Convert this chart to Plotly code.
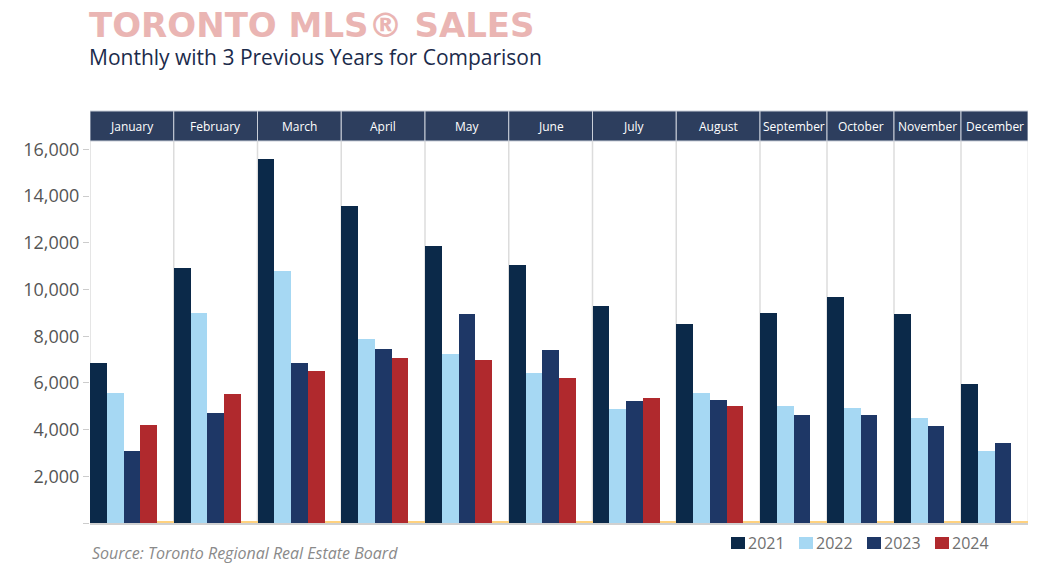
import plotly.graph_objects as go

# ---------------- data ----------------
months = ["January", "February", "March", "April", "May", "June",
          "July", "August", "September", "October", "November", "December"]
years = ["2021", "2022", "2023", "2024"]
sales_2021 = [6860, 10900, 15600, 13560, 11870, 11030, 9310, 8540, 8990, 9700, 8940, 5970]
sales_2022 = [5570, 8990, 10810, 7900, 7230, 6430, 4870, 5570, 4990, 4940, 4490, 3090]
sales_2023 = [3090, 4730, 6840, 7470, 8960, 7430, 5210, 5260, 4610, 4610, 4170, 3420]
sales_2024 = [4190, 5530, 6490, 7070, 7000, 6190, 5370, 4990, None, None, None, None]
y_ticks = [0, 2000, 4000, 6000, 8000, 10000, 12000, 14000, 16000]
spacer_value = 80  # thin orange marker closing each month group

series = [sales_2021, sales_2022, sales_2023, sales_2024]
colors = ["#0B2949", "#A6D8F3", "#1E3766", "#B0292D"]
spacer_color = "#FFD27F"

# ---------------- slot layout (derived from data) ----------------
xs = [[] for _ in series]
ys = [[] for _ in series]
spacer_x = []
group_start = []
group_end = []
slot = 0
for m in range(len(months)):
    group_start.append(slot)
    for s, vals in enumerate(series):
        if vals[m] is not None:
            xs[s].append(slot)
            ys[s].append(vals[m])
            slot += 1
    spacer_x.append(slot)
    slot += 1
    group_end.append(slot)
n_slots = slot

# ---------------- figure ----------------
W, H = 1052, 569
ml, mr, mt, mb = 90, 24, 141, 46
pw = W - ml - mr
ph = H - mt - mb


def py(ypx):
    """pixel row -> paper y"""
    return (H - mb - ypx) / ph


def px(xpx):
    """pixel column -> paper x"""
    return (xpx - ml) / pw


fig = go.Figure()
for s, yr in enumerate(years):
    fig.add_trace(go.Bar(
        x=xs[s], y=ys[s], width=1, name=yr,
        marker=dict(color=colors[s], line=dict(width=0)),
    ))
fig.add_trace(go.Bar(
    x=spacer_x, y=[spacer_value] * len(spacer_x), width=1,
    marker=dict(color=spacer_color, line=dict(width=0)),
    showlegend=False, hoverinfo="skip",
))

shapes = []
annotations = []
hdr_h = 30 / ph
for m, name in enumerate(months):
    x0 = group_start[m] - 0.5
    x1 = group_end[m] - 0.5
    shapes.append(dict(type="rect", xref="x", yref="paper", x0=x0, x1=x1,
                       y0=1, y1=1 + hdr_h, fillcolor="#2D3E5E",
                       line=dict(color="#C9CED8", width=1), layer="above"))
    annotations.append(dict(xref="x", yref="paper", x=(x0 + x1) / 2, y=1 + hdr_h / 2,
                            text=name, showarrow=False, yanchor="middle",
                            font=dict(family="Open Sans", size=12, color="#FFFFFF")))
    shapes.append(dict(type="line", xref="x", yref="paper", x0=x0, x1=x0, y0=0, y1=1,
                       line=dict(color="#DCDCDC", width=1.5), layer="below"))
shapes.append(dict(type="line", xref="x", yref="paper", x0=n_slots - 0.5, x1=n_slots - 0.5,
                   y0=0, y1=1, line=dict(color="#EEEEEE", width=1.5), layer="below"))

# legend (swatch + label per year)
leg_x0, leg_step, leg_y = 731, 68, 543
for k, yr in enumerate(years):
    bx = leg_x0 + k * leg_step
    shapes.append(dict(type="rect", xref="paper", yref="paper",
                       x0=px(bx), x1=px(bx + 14), y0=py(leg_y + 6), y1=py(leg_y - 6),
                       fillcolor=colors[k], line=dict(width=0)))
    annotations.append(dict(xref="paper", yref="paper", x=px(bx + 15), y=py(leg_y),
                            xanchor="left", yanchor="middle", showarrow=False, text=yr,
                            font=dict(family="Open Sans", size=16, color="#707070")))

annotations.append(dict(xref="paper", yref="paper", x=-0.003, y=py(25),
                        xanchor="left", yanchor="middle", showarrow=False,
                        text="<b>TORONTO MLS® SALES</b>",
                        font=dict(family="DejaVu Sans", size=34, color="#EAB5B3")))
annotations.append(dict(xref="paper", yref="paper", x=-0.003, y=py(57),
                        xanchor="left", yanchor="middle", showarrow=False,
                        text="Monthly with 3 Previous Years for Comparison",
                        font=dict(family="Open Sans", size=21, color="#1B2B4B")))
annotations.append(dict(xref="paper", yref="paper", x=0, y=py(553),
                        xanchor="left", yanchor="middle", showarrow=False,
                        text="<i>Source: Toronto Regional Real Estate Board</i>",
                        font=dict(family="Open Sans", size=16, color="#8A8A8A")))

fig.update_layout(
    width=W, height=H,
    margin=dict(l=ml, r=mr, t=mt, b=mb, autoexpand=False),
    paper_bgcolor="#FFFFFF", plot_bgcolor="#FFFFFF",
    barmode="overlay", bargap=0,
    shapes=shapes, annotations=annotations,
    showlegend=False,
    xaxis=dict(range=[-0.5, n_slots - 0.5], showticklabels=False, ticks="",
               showgrid=False, zeroline=False, showline=True,
               linecolor="#D0D0D0", linewidth=1.5, fixedrange=True),
    yaxis=dict(range=[0, 16360], tickvals=y_ticks,
               ticktext=["" if v == 0 else f"{v:,}" for v in y_ticks],
               ticks="outside", ticklen=6, tickcolor="#CCCCCC", tickwidth=1,
               showgrid=False, zeroline=False, showline=False,
               tickfont=dict(family="Open Sans", size=18, color="#555555"),
               fixedrange=True),
)

fig.write_html("out.html")
